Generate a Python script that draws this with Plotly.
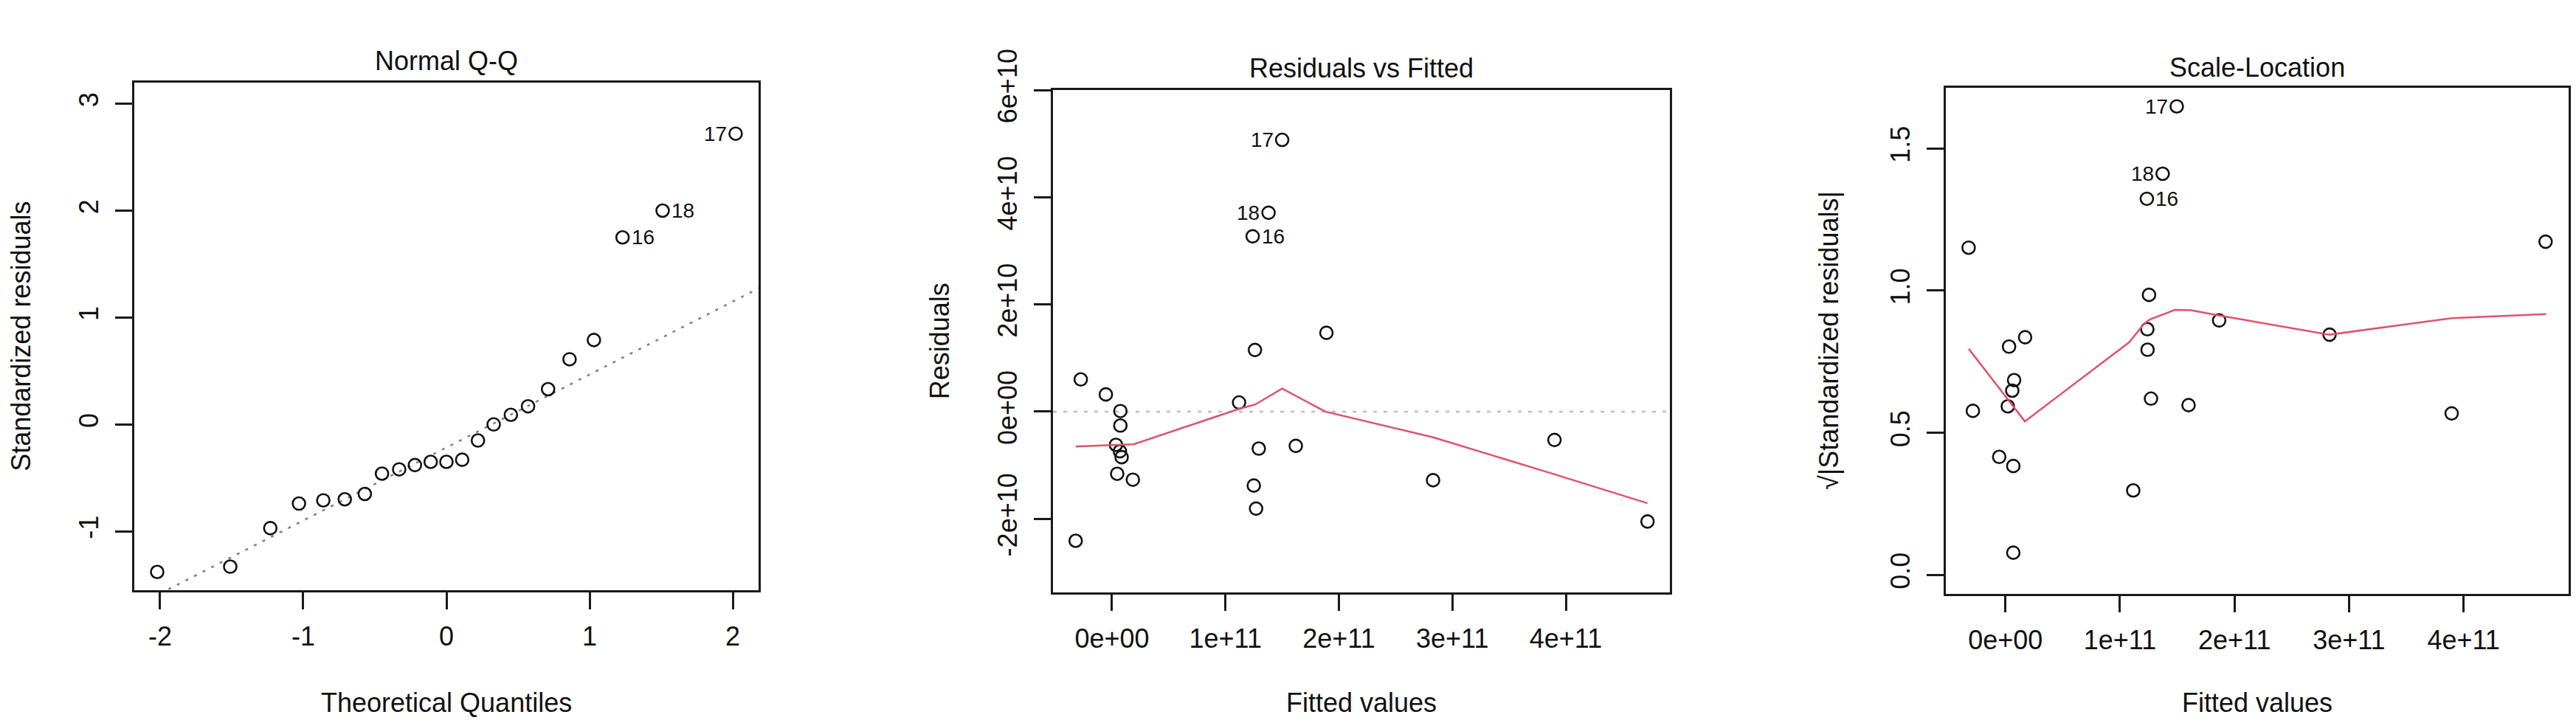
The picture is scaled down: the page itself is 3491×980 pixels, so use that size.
import plotly.graph_objects as go

# ---------------- data ----------------
# Panel 1: Normal Q-Q
qq_theoretical = [-2.02, -1.51, -1.23, -1.03, -0.86, -0.71, -0.57, -0.45, -0.33, -0.22, -0.11, 0.00,
                  0.11, 0.22, 0.33, 0.45, 0.57, 0.71, 0.86, 1.03, 1.23, 1.51, 2.02]
qq_std_resid = [-1.38, -1.33, -0.97, -0.74, -0.71, -0.70, -0.65, -0.46, -0.42, -0.38, -0.35, -0.35,
                -0.33, -0.15, 0.00, 0.09, 0.17, 0.33, 0.61, 0.79, 1.75, 2.00, 2.72]
qq_line_intercept = -0.216
qq_line_slope = 0.683
qq_labels = ["16", "18", "17"]
qq_label_idx = [20, 21, 22]
qq_label_side = ["right", "right", "left"]

# Panel 2: Residuals vs Fitted
rv_fitted = [-0.32e11, -0.275e11, -0.054e11, 0.074e11, 0.074e11, 0.035e11, 0.070e11, 0.085e11,
             0.046e11, 0.184e11, 1.12e11, 1.26e11, 1.294e11, 1.25e11, 1.27e11, 1.24e11, 1.38e11,
             1.50e11, 1.62e11, 1.89e11, 2.83e11, 3.90e11, 4.72e11]
rv_resid = [-2.41e10, 0.60e10, 0.32e10, 0.01e10, -0.26e10, -0.62e10, -0.74e10, -0.85e10,
            -1.16e10, -1.27e10, 0.17e10, 1.15e10, -0.69e10, -1.38e10, -1.81e10, 3.27e10, 3.71e10,
            5.07e10, -0.64e10, 1.47e10, -1.28e10, -0.53e10, -2.05e10]
rv_smooth_x = [-0.32e11, 0.19e11, 1.12e11, 1.26e11, 1.50e11, 1.88e11, 2.83e11, 3.90e11, 4.72e11]
rv_smooth_y = [-0.65e10, -0.61e10, 0.05e10, 0.13e10, 0.43e10, 0.00e10, -0.48e10, -1.17e10, -1.71e10]
rv_labels = ["16", "18", "17"]
rv_label_idx = [15, 16, 17]
rv_label_side = ["right", "left", "left"]

# Panel 3: Scale-Location
sl_fitted = [-0.321e11, -0.284e11, -0.054e11, 0.021e11, 0.032e11, 0.069e11, 0.069e11, 0.060e11,
             0.076e11, 0.172e11, 1.116e11, 1.235e11, 1.239e11, 1.241e11, 1.254e11, 1.271e11,
             1.373e11, 1.496e11, 1.599e11, 1.866e11, 2.830e11, 3.896e11, 4.716e11]
sl_sqrt_std = [1.151, 0.577, 0.415, 0.593, 0.803, 0.383, 0.078, 0.648, 0.685, 0.836, 0.297, 1.323,
               0.864, 0.792, 0.985, 0.620, 1.411, 1.648, 0.597, 0.895, 0.845, 0.568, 1.172]
sl_smooth_x = [-0.32e11, 0.17e11, 1.08e11, 1.21e11, 1.26e11, 1.48e11, 1.62e11, 1.87e11, 2.83e11,
               3.90e11, 4.72e11]
sl_smooth_y = [0.795, 0.540, 0.818, 0.883, 0.898, 0.932, 0.931, 0.912, 0.845, 0.903, 0.917]
sl_labels = ["16", "18", "17"]
sl_label_idx = [11, 16, 17]
sl_label_side = ["right", "left", "left"]

# tick labels
qq_xticks = [-2, -1, 0, 1, 2]
qq_xticktext = ["-2", "-1", "0", "1", "2"]
qq_yticks = [-1, 0, 1, 2, 3]
qq_yticktext = ["-1", "0", "1", "2", "3"]
fit_xticks = [0, 1e11, 2e11, 3e11, 4e11]
fit_xticktext = ["0e+00", "1e+11", "2e+11", "3e+11", "4e+11"]
rv_yticks = [-2e10, 0, 2e10, 4e10, 6e10]
rv_yticktext = ["-2e+10", "0e+00", "2e+10", "4e+10", "6e+10"]
sl_yticks = [0, 0.5, 1.0, 1.5]
sl_yticktext = ["0.0", "0.5", "1.0", "1.5"]

titles = ["Normal Q-Q", "Residuals vs Fitted", "Scale-Location"]
xtitles = ["Theoretical Quantiles", "Fitted values", "Fitted values"]
ytitles = ["Standardized residuals", "Residuals", "√|Standardized residuals|"]

# ---------------- styling / layout ----------------
W, H = 3491, 980
FONT = "Liberation Sans, Arial, Helvetica, sans-serif"
RED = "#DF536B"

qq_xrange = [-2.18, 2.18]
qq_yrange = [-1.55, 3.20]
fit_xrange = [-0.52e11, 4.917e11]
rv_yrange = [-3.37e10, 6.0e10]
sl_yrange = [-0.066, 1.713]

# plot box pixel positions (left, right, top, bottom)
boxes = [(182, 1028, 59, 789), (1427, 2263, 70, 792), (2637, 3481, 67, 794)]
title_y = [28, 39, 38]
ytitle_x = [29, 1273, 2479]
xtitle_y = 951

fig = go.Figure()

marker = dict(symbol="circle-open", size=17, color="#111111", line=dict(width=2.6, color="#111111"))

# Panel 1
fig.add_trace(go.Scatter(x=[qq_xrange[0], qq_xrange[1]],
                         y=[qq_line_intercept + qq_line_slope * qq_xrange[0],
                            qq_line_intercept + qq_line_slope * qq_xrange[1]],
                         mode="lines", line=dict(color="#7F7F7F", width=2.5, dash="4px,9px"),
                         xaxis="x", yaxis="y", hoverinfo="skip"))
fig.add_trace(go.Scatter(x=qq_theoretical, y=qq_std_resid, mode="markers", marker=marker,
                         xaxis="x", yaxis="y"))
# Panel 2
fig.add_trace(go.Scatter(x=rv_fitted, y=rv_resid, mode="markers", marker=marker,
                         xaxis="x2", yaxis="y2"))
fig.add_trace(go.Scatter(x=rv_smooth_x, y=rv_smooth_y, mode="lines",
                         line=dict(color=RED, width=2.5), xaxis="x2", yaxis="y2"))
# Panel 3
fig.add_trace(go.Scatter(x=sl_fitted, y=sl_sqrt_std, mode="markers", marker=marker,
                         xaxis="x3", yaxis="y3"))
fig.add_trace(go.Scatter(x=sl_smooth_x, y=sl_smooth_y, mode="lines",
                         line=dict(color=RED, width=2.5), xaxis="x3", yaxis="y3"))

# zero reference line in panel 2
fig.add_shape(type="line", xref="x2 domain", yref="y2", x0=0, x1=1, y0=0, y1=0,
              line=dict(color="#BEBEBE", width=2.5, dash="5px,9px"), layer="below")

annotations = []
# point labels
for (xs, ys, labs, idx, sides, ax) in [
        (qq_theoretical, qq_std_resid, qq_labels, qq_label_idx, qq_label_side, ""),
        (rv_fitted, rv_resid, rv_labels, rv_label_idx, rv_label_side, "2"),
        (sl_fitted, sl_sqrt_std, sl_labels, sl_label_idx, sl_label_side, "3")]:
    for lab, i, side in zip(labs, idx, sides):
        annotations.append(dict(x=xs[i], y=ys[i], xref="x" + ax, yref="y" + ax, text=lab,
                                showarrow=False, font=dict(family=FONT, size=28, color="#111111"),
                                xanchor="right" if side == "left" else "left", yanchor="middle",
                                xshift=-10 if side == "left" else 10))

for k, (l, r, t, b) in enumerate(boxes):
    cx = (l + r) / 2 / W
    cy = 1 - (t + b) / 2 / H
    annotations.append(dict(x=cx, y=1 - title_y[k] / H, xref="paper", yref="paper", text=titles[k],
                            showarrow=False, font=dict(family=FONT, size=36, color="#111111"),
                            xanchor="center", yanchor="middle"))
    annotations.append(dict(x=cx, y=1 - xtitle_y / H, xref="paper", yref="paper", text=xtitles[k],
                            showarrow=False, font=dict(family=FONT, size=36, color="#111111"),
                            xanchor="center", yanchor="middle"))
    annotations.append(dict(x=ytitle_x[k] / W, y=cy, xref="paper", yref="paper", text=ytitles[k],
                            showarrow=False, textangle=-90,
                            font=dict(family=FONT, size=36, color="#111111"),
                            xanchor="center", yanchor="middle"))


def axis_common():
    return dict(showgrid=False, zeroline=False, showline=True, mirror=True, linecolor="#1a1a1a",
                linewidth=2.5, ticks="outside", ticklen=23, tickwidth=2.5, tickcolor="#1a1a1a",
                tickfont=dict(family=FONT, size=36, color="#111111"), tickmode="array")


layout = dict(width=W, height=H, margin=dict(l=0, r=0, t=0, b=0), showlegend=False,
              paper_bgcolor="white", plot_bgcolor="white", annotations=annotations)

xr = [qq_xrange, fit_xrange, fit_xrange]
yr = [qq_yrange, rv_yrange, sl_yrange]
xt = [(qq_xticks, qq_xticktext), (fit_xticks, fit_xticktext), (fit_xticks, fit_xticktext)]
yt = [(qq_yticks, qq_yticktext), (rv_yticks, rv_yticktext), (sl_yticks, sl_yticktext)]
for k, (l, r, t, b) in enumerate(boxes):
    sx = "" if k == 0 else str(k + 1)
    xa = axis_common()
    xa.update(domain=[l / W, r / W], range=xr[k], tickvals=xt[k][0], ticktext=xt[k][1],
              anchor="y" + sx, ticklabelstandoff=6)
    ya = axis_common()
    ya.update(domain=[1 - b / H, 1 - t / H], range=yr[k], tickvals=yt[k][0], ticktext=yt[k][1],
              anchor="x" + sx, tickangle=-90, ticklabelstandoff=9)
    layout["xaxis" + sx] = xa
    layout["yaxis" + sx] = ya

fig.update_layout(**layout)
fig.write_html("out.html", config={"displayModeBar": False},
               post_script="document.body.style.margin='0';")
